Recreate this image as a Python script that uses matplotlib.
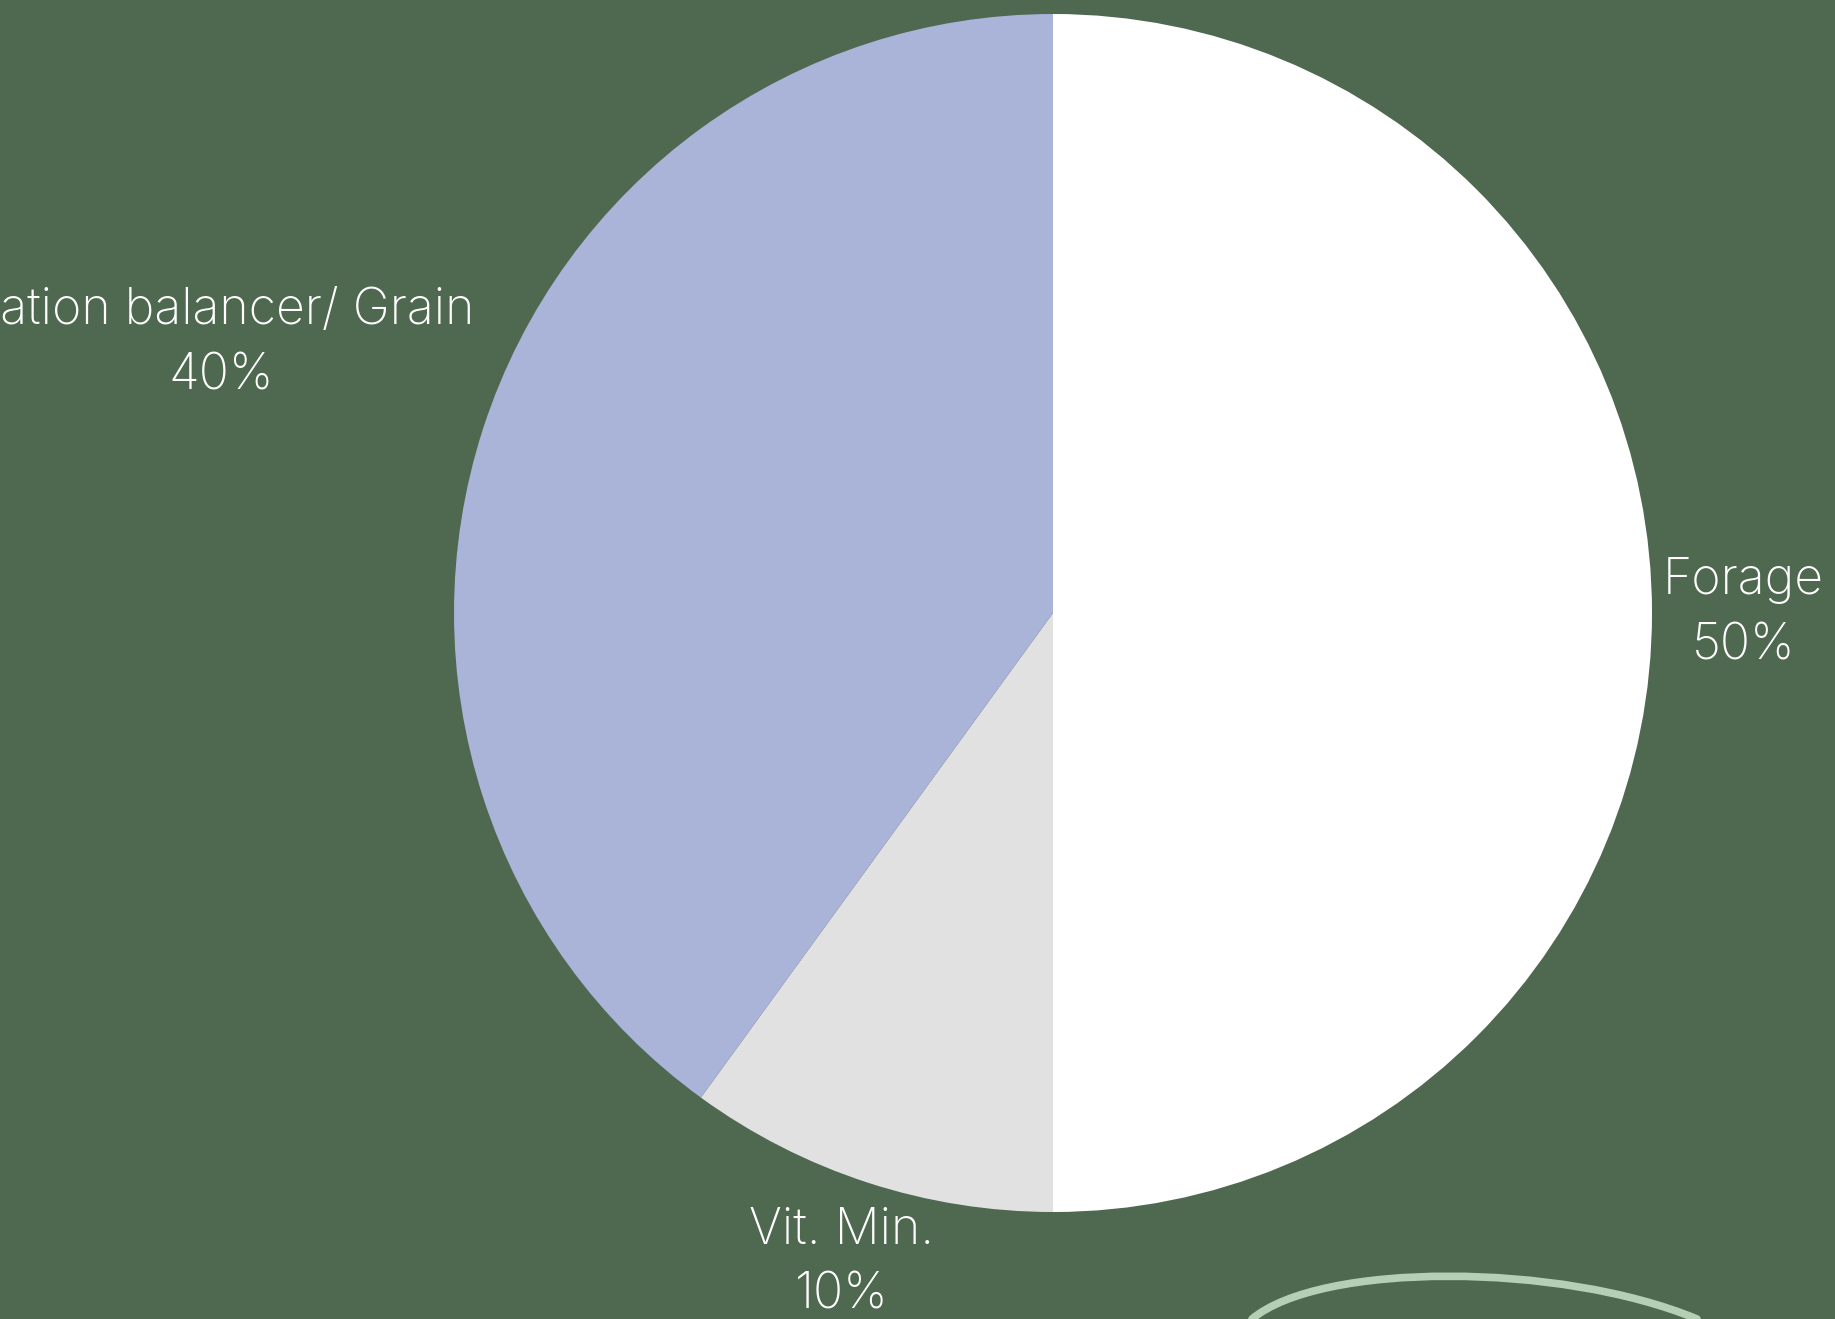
import numpy as np
import matplotlib.pyplot as plt
from matplotlib.path import Path
from matplotlib.patches import PathPatch

# feed ration shares
categories = ["Forage", "Vit. Min.", "Ration balancer/ Grain"]
shares = [50, 10, 40]
colors = ["#ffffff", "#e1e1e1", "#aab3d8"]
label_dist = [1.153, 1.14, 1.46]

bg = "#4f6850"
W, H = 1835, 1319
cx, cy, rad = 1053, 613, 599   # pie centre / radius in pixels

fig = plt.figure(figsize=(W / 100, H / 100), dpi=100, facecolor=bg)
ax = fig.add_axes([0, 0, 1, 1])
ax.set_facecolor(bg)

wedges, _ = ax.pie(shares, colors=colors, startangle=90, counterclock=False,
                   wedgeprops=dict(linewidth=0))

# labels at the middle angle of each wedge
for w, name, val, d in zip(wedges, categories, shares, label_dist):
    ang = np.deg2rad((w.theta1 + w.theta2) / 2)
    ax.text(d * np.cos(ang), d * np.sin(ang), f"{name}\n{val}%",
            ha="center", va="center", color="white", fontsize=36,
            family="Inter", fontweight="light", linespacing=1.5)

# pixel -> data helper
def px(x, y):
    return ((x - cx) / rad, (cy - y) / rad)

# decorative curve at bottom right
verts = [px(1252, 1319), px(1320, 1262), px(1560, 1262), px(1697, 1319)]
codes = [Path.MOVETO, Path.CURVE4, Path.CURVE4, Path.CURVE4]
ax.add_patch(PathPatch(Path(verts, codes), fill=False, edgecolor="#b5cfb5",
                       lw=5.5, capstyle="round"))

ax.set_xlim(-cx / rad, (W - cx) / rad)
ax.set_ylim(-(H - cy) / rad, cy / rad)
ax.set_aspect("auto")
ax.axis("off")

fig.savefig("out.png", dpi=100, facecolor=bg)
